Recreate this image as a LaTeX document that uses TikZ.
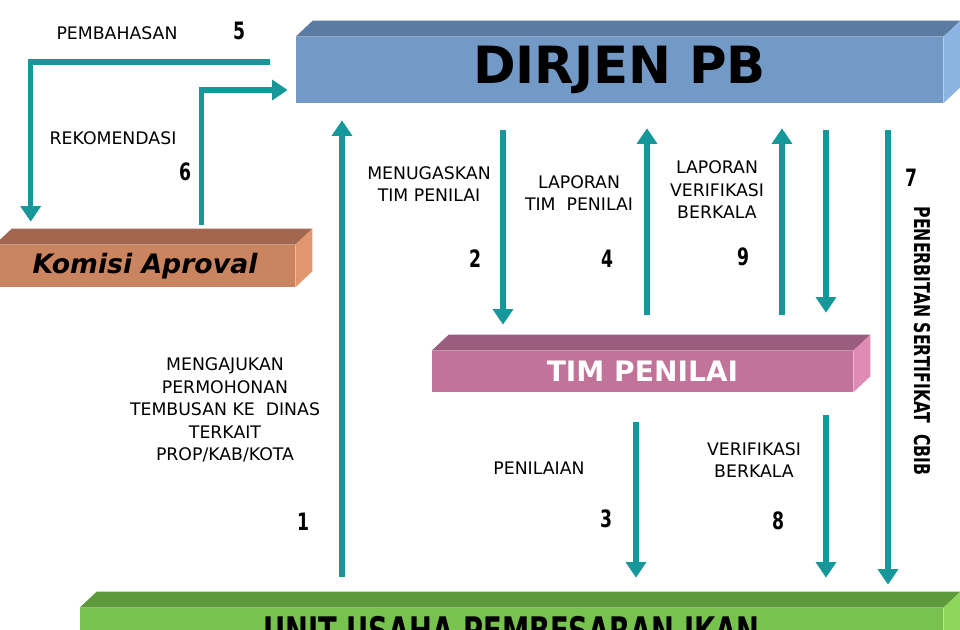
\documentclass[tikz,border=0pt]{standalone}
\usepackage{fontspec}
\setmainfont{DejaVu Sans}
\newfontfamily\numfont{DejaVu Sans}[FakeStretch=0.72]
\usepackage{xcolor}
\usepackage{tikz}
\usetikzlibrary{calc, positioning, arrows.meta}
\definecolor{arrowteal}{HTML}{16979A}
\definecolor{dirjenfront}{HTML}{7399C6}
\definecolor{dirjentop}{HTML}{5B7BA3}
\definecolor{dirjenside}{HTML}{8CB4E3}
\definecolor{komisifront}{HTML}{CB8460}
\definecolor{komisitop}{HTML}{A3674F}
\definecolor{komisiside}{HTML}{E2966E}
\definecolor{timfront}{HTML}{C17399}
\definecolor{timtop}{HTML}{9B5D7D}
\definecolor{timside}{HTML}{E08AB6}
\definecolor{unitfront}{HTML}{78C24E}
\definecolor{unittop}{HTML}{5E9A3B}
\definecolor{unitside}{HTML}{8ED65E}
\tikzset{
    flow/.style={-{Triangle[width=14pt, length=11pt]}, line width=4pt, draw=arrowteal},
    txt/.style={font=\fontsize{12.3}{16}\selectfont, align=center, inner sep=0pt},
    num/.style={font=\numfont\bfseries\fontsize{17}{17}\selectfont, inner sep=0pt},
    slab/.style={rectangle, inner sep=0pt, anchor=center}
}
% top and side faces of a slab: node, top colour, side colour
\newcommand{\slabfaces}[3]{
    \fill[#2] (#1.north west) -- ++(17,-16) -- ($(#1.north east)+(17,-16)$) -- (#1.north east) -- cycle;
    \fill[#3] (#1.north east) -- ++(17,-16) -- ($(#1.south east)+(17,-16)$) -- (#1.south east) -- cycle;
}

\begin{document}
\begin{tikzpicture}[x=0.025cm, y=-0.025cm]
    \useasboundingbox (0,0) rectangle (960,630);

    % Slabs
    \node[slab, fill=dirjenfront, minimum width=16.175cm, minimum height=1.65cm,
          font=\bfseries\fontsize{36.5}{36.5}\selectfont] (dirjen) at (619.5,70) {DIRJEN PB};
    \slabfaces{dirjen}{dirjentop}{dirjenside}
    \node[slab, fill=komisifront, minimum width=7.5cm, minimum height=1.05cm,
          font=\bfseries\itshape\fontsize{19}{19}\selectfont] (komisi) at (145,266) {Komisi Aproval};
    \slabfaces{komisi}{komisitop}{komisiside}
    \node[slab, fill=timfront, minimum width=10.525cm, minimum height=1.025cm, text=white,
          font=\bfseries\fontsize{20}{20}\selectfont] (tim) at (642.5,371.5) {TIM PENILAI};
    \slabfaces{tim}{timtop}{timside}
    \node[slab, fill=unitfront, minimum width=21.575cm, minimum height=1.15cm,
          font=\numfont\bfseries\fontsize{27}{27}\selectfont] (unit) at (511.5,631) {UNIT USAHA PEMBESARAN IKAN};
    \slabfaces{unit}{unittop}{unitside}

    % Columns of the arrows
    \coordinate (c1) at (342,0);
    \coordinate (c2) at (503,0);
    \coordinate (c3) at (636,0);
    \coordinate (c4) at (647,0);
    \coordinate (c9) at (782,0);
    \coordinate (c8) at (826,0);
    \coordinate (c7) at (888,0);

    % Arrows
    \draw[flow] ($(dirjen.west)+(-26,-8)$) -| ($(komisi.north west)+(36,-23)$);
    \draw[flow] ($(komisi.north west)+(207,-20)$) |- ($(dirjen.west)+(-8,20)$);
    \draw[flow] ($(unit.north -| c1)+(0,-31)$) -- ($(dirjen.south -| c1)+(0,17)$);
    \draw[flow] ($(dirjen.south -| c2)+(0,27)$) -- ($(tim.north -| c2)+(0,-26)$);
    \draw[flow] ($(tim.north -| c4)+(0,-36)$) -- ($(dirjen.south -| c4)+(0,25)$);
    \draw[flow] ($(tim.north -| c9)+(0,-36)$) -- ($(dirjen.south -| c9)+(0,25)$);
    \draw[flow] ($(dirjen.south -| c8)+(0,27)$) -- ($(tim.north -| c8)+(0,-38)$);
    \draw[flow] ($(dirjen.south -| c7)+(0,27)$) -- ($(unit.north -| c7)+(0,-23)$);
    \draw[flow] ($(tim.south -| c3)+(0,30)$) -- ($(unit.north -| c3)+(0,-30)$);
    \draw[flow] ($(tim.south -| c8)+(0,23)$) -- ($(unit.north -| c8)+(0,-30)$);

    % Labels
    \node[txt] (pembahasan) at (117,33) {PEMBAHASAN};
    \node[num] (n5) at (239,31) {5};
    \node[txt] (rekomendasi) at (113,138) {REKOMENDASI};
    \node[num] (n6) at (185,172) {6};
    \node[txt] (menugaskan) at (429,184) {MENUGASKAN\\TIM PENILAI};
    \node[num] (n2) at (475,259) {2};
    \node[txt] (laporantim) at (579,193) {LAPORAN\\TIM~~PENILAI};
    \node[num] (n4) at (607,259) {4};
    \node[txt] (laporanverif) at (717,190) {LAPORAN\\VERIFIKASI\\BERKALA};
    \node[num] (n9) at (743,257) {9};
    \node[num] (n7) at (911,178) {7};
    \node[num, rotate=-90, font=\numfont\bfseries\fontsize{15.5}{15.5}\selectfont] (penerbitan) at (922,341) {PENERBITAN SERTIFIKAT~~CBIB};
    \node[txt] (mengajukan) at (225,410) {MENGAJUKAN\\PERMOHONAN\\TEMBUSAN KE~~DINAS\\TERKAIT\\PROP/KAB/KOTA};
    \node[num] (n1) at (303,522) {1};
    \node[txt] (penilaian) at (539,468) {PENILAIAN};
    \node[num] (n3) at (606,519) {3};
    \node[txt] (verifikasi) at (754,460) {VERIFIKASI\\BERKALA};
    \node[num] (n8) at (778,521) {8};
\end{tikzpicture}
\end{document}
